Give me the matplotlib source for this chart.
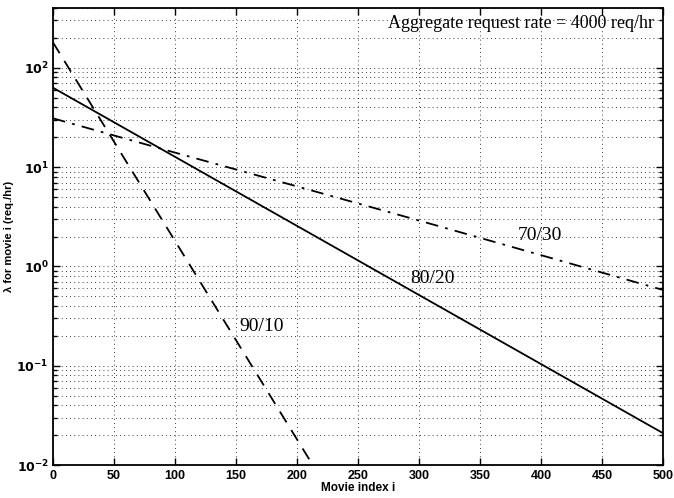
"""
Per-movie request rate under three popularity skews (70/30, 80/20, 90/10),
aggregate load 4000 req/hr, plotted on a log scale against movie index.
"""
import math

import matplotlib

matplotlib.use("Agg")
import matplotlib.pyplot as plt
from matplotlib.ticker import FixedLocator, FuncFormatter, LogLocator, NullFormatter

# movie index / request rate (req/hr) for each skew
IDX_7030 = [0, 100, 200, 300, 400, 500]
RATE_7030 = [31.0, 14.0, 6.4, 2.9, 1.3, 0.58]

IDX_8020 = [0, 500]
RATE_8020 = [63.0, 0.021]

IDX_9010 = [0, 213]
RATE_9010 = [180.0, 0.01]

SKEW_LABELS = ["70/30", "80/20", "90/10"]
LABEL_POS = [(399, 2.05), (311, 0.76), (171, 0.25)]

TITLE_TEXT = "Aggregate request rate = 4000 req/hr"

SERIF = ["Liberation Serif", "DejaVu Serif"]
SANS = ["Liberation Sans", "DejaVu Sans"]


def log_label(v, pos):
    exp = int(round(math.log10(v)))
    return r"$\mathbf{10^{%d}}$" % exp


fig = plt.figure(figsize=(6.74, 4.98), dpi=100, facecolor="white")
ax = fig.add_axes([0.0786, 0.066, 0.905, 0.918])

ax.plot(IDX_8020, RATE_8020, color="black", lw=1.3, ls="-")
ax.plot(IDX_9010, RATE_9010, color="black", lw=1.3, ls=(0, (7, 5)))
ax.plot(IDX_7030, RATE_7030, color="black", lw=1.3, ls=(0, (7, 4, 1.5, 4)))

ax.set_yscale("log")
ax.set_xlim(0, 500)
ax.set_ylim(0.01, 400)

ax.xaxis.set_major_locator(FixedLocator(list(range(0, 501, 50))))
ax.yaxis.set_major_locator(LogLocator(base=10, numticks=10))
ax.yaxis.set_minor_locator(LogLocator(base=10, subs=range(2, 10), numticks=20))
ax.yaxis.set_major_formatter(FuncFormatter(log_label))
ax.yaxis.set_minor_formatter(NullFormatter())

grid_style = dict(color="black", lw=0.6, ls=(0, (1, 4)))
ax.grid(True, which="major", axis="x", **grid_style)
ax.grid(True, which="both", axis="y", **grid_style)

ax.tick_params(which="both", direction="in", top=True, right=True, width=1.0)
ax.tick_params(which="major", length=5, labelsize=9)
ax.tick_params(axis="y", which="major", pad=3)
ax.tick_params(which="minor", length=3)
for lbl in ax.get_xticklabels():
    lbl.set_fontfamily(SANS)
    lbl.set_fontweight("bold")
for sp in ax.spines.values():
    sp.set_linewidth(1.3)

ax.set_xlabel("Movie index i", family=SANS, fontweight="bold", fontsize=8.5, labelpad=0)
ax.set_ylabel("λ for movie i (req./hr)", family=SANS, fontweight="bold", fontsize=8)
ax.yaxis.set_label_coords(-0.064, 0.5)

ax.text(384, 282, TITLE_TEXT, family=SERIF, fontsize=13, ha="center", va="center")
for name, (xp, yp) in zip(SKEW_LABELS, LABEL_POS):
    ax.text(xp, yp, name, family=SERIF, fontsize=14, ha="center", va="center")

fig.savefig("out.png", dpi=100, facecolor="white")
